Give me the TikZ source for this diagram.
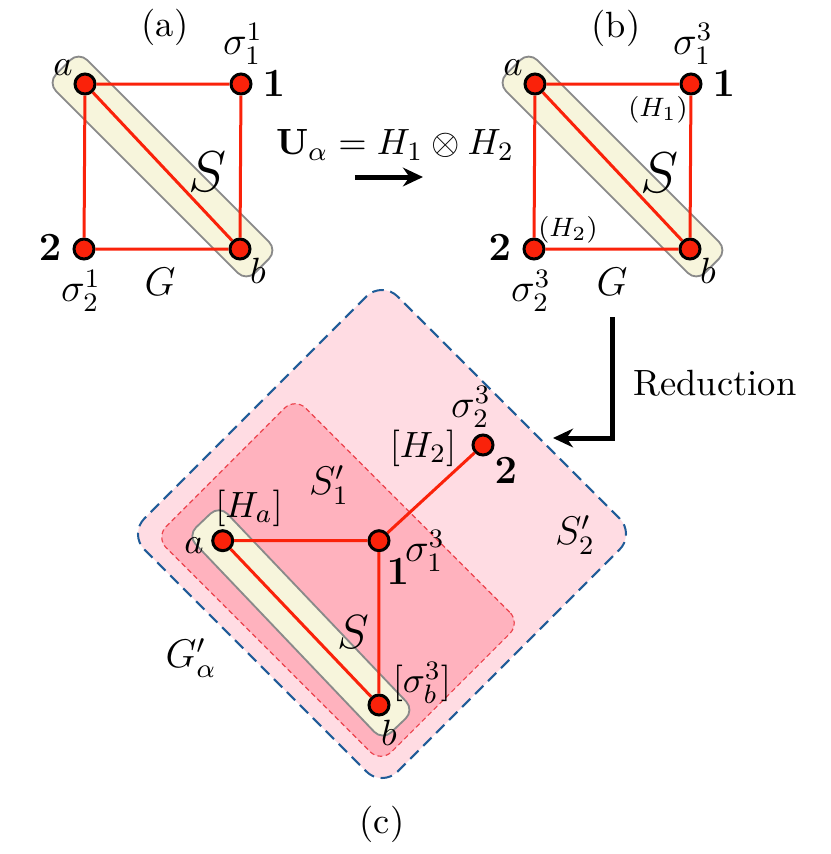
\documentclass[tikz,11pt,border=0pt]{standalone}
\usepackage{amsmath,amsfonts,amssymb}
\usetikzlibrary{arrows.meta}
\definecolor{vred}{RGB}{250,34,10}
\definecolor{capfill}{RGB}{247,245,220}
\definecolor{capline}{RGB}{138,138,138}
\definecolor{outerpink}{RGB}{255,220,227}
\definecolor{innerpink}{RGB}{255,178,190}
\definecolor{dashblue}{RGB}{32,92,152}
\definecolor{dashred}{RGB}{236,66,76}

\begin{document}
\begin{tikzpicture}[x=0.3pt,y=-0.3pt,
  vert/.style={circle,draw=black,fill=vred,line width=0.9pt,minimum size=6pt,inner sep=0pt},
  link/.style={draw=vred,line width=0.9pt},
  capsule/.style={draw=capline,fill=capfill,line width=0.55pt,rounded corners=3.6pt,minimum height=13.2pt,inner sep=0pt},
  bigarrow/.style={line width=1.5pt,-{Stealth[length=6pt,width=5.6pt]}},
  lab/.style={inner sep=0pt},
  biglab/.style={inner sep=0pt,font=\large}]
\useasboundingbox (0,0) rectangle (831,854);
%
% (a)
\node[capsule,minimum width=84.3pt,rotate=-45] (capA) at (162.5,166.5) {};
\node[vert] (aa) at (85,84) {};
\node[vert] (a1) at (241,84) {};
\node[vert] (a2) at (84,249) {};
\node[vert] (ab) at (240,249) {};
\draw[link] (aa) -- (a1) (a1) -- (ab) (ab) -- (a2) (a2) -- (aa) (aa) -- (ab);
\node[lab] (tA) at (165,27) {(a)};
\node[lab] (laa) at (63,68) {$a$};
\node[biglab] (lsa1) at (243,44) {$\sigma_1^1$};
\node[biglab] (la1) at (274,84) {$\mathbf{1}$};
\node[biglab] (la2) at (50,248) {$\mathbf{2}$};
\node[biglab] (lsa2) at (81,291) {$\sigma_2^1$};
\node[lab] (lGa) at (160,282) {\large $G$};
\node[lab] (lab) at (258,271) {$b$};
\node[lab] (lSa) at (208,172) {\LARGE $S$};
%
\node[lab] (uform) at (395,145) {$\mathbf{U}_\alpha = H_1\otimes H_2$};
\coordinate (ustart) at (355,177);
\coordinate (uend) at (423,177);
\draw[bigarrow] (ustart) -- (uend);
%
% (b)
\node[capsule,minimum width=84.3pt,rotate=-45] (capB) at (612.5,166.5) {};
\node[vert] (ba) at (535,84) {};
\node[vert] (b1) at (691,84) {};
\node[vert] (b2) at (534,249) {};
\node[vert] (bb) at (690,249) {};
\draw[link] (ba) -- (b1) (b1) -- (bb) (bb) -- (b2) (b2) -- (ba) (ba) -- (bb);
\node[lab] (tB) at (616,28) {(b)};
\node[lab] (lba) at (513,68) {$a$};
\node[biglab] (lsb1) at (693,44) {$\sigma_1^3$};
\node[biglab] (lb1) at (724,84) {$\mathbf{1}$};
\node[lab] (lh1) at (658,110) {\scriptsize $(H_1)$};
\node[lab] (lh2) at (568,230) {\scriptsize $(H_2)$};
\node[biglab] (lb2) at (500,248) {$\mathbf{2}$};
\node[biglab] (lsb2) at (531,291) {$\sigma_2^3$};
\node[lab] (lGb) at (612,282) {\large $G$};
\node[lab] (lbb) at (708,271) {$b$};
\node[lab] (lSb) at (660,173) {\LARGE $S$};
%
\coordinate (rtop) at (613,317);
\coordinate (rend) at (553,438);
\draw[bigarrow] (rtop) |- (rend);
\node[lab] (lred) at (715,383) {Reduction};
%
% (c)
\node[draw=dashblue,fill=outerpink,line width=0.6pt,dash pattern=on 3.5pt off 2pt,
  rounded corners=6.6pt,minimum size=107.4pt,rotate=45] (regS2) at (382,534) {};
\node[draw=dashred,fill=innerpink,line width=0.35pt,dash pattern=on 1.5pt off 1pt,
  rounded corners=4.5pt,minimum width=95.6pt,minimum height=59.2pt,rotate=-45] (regS1) at (338,580) {};
\node[capsule,minimum width=84.9pt,rotate=-46.4] (capC) at (300.9,622.9) {};
\node[vert] (ca) at (222.7,540.7) {};
\node[vert] (c1) at (379,540.7) {};
\node[vert] (cb) at (379,705) {};
\node[vert] (c2) at (483,445) {};
\draw[link] (ca) -- (c1) (c1) -- (cb) (cb) -- (ca) (c1) -- (c2);
\node[lab] (lha) at (249,508) {$[H_a]$};
\node[lab] (lca) at (194,546) {$a$};
\node[lab] (lS1) at (329,485) {\large $S_1'$};
\node[biglab] (lsc1) at (425,551) {$\sigma_1^3$};
\node[biglab] (lc1) at (398,572) {$\mathbf{1}$};
\node[lab] (lhc2) at (423,448) {$[H_2]$};
\node[biglab] (lsc2) at (471,407) {$\sigma_2^3$};
\node[biglab] (lc2) at (506,471) {$\mathbf{2}$};
\node[lab] (lS2) at (575,535) {\large $S_2'$};
\node[lab] (lSc) at (353,632) {\Large $S$};
\node[lab] (lGc) at (191,658) {\large $G_\alpha'$};
\node[lab] (lsb) at (422,683) {$[\sigma_b^3]$};
\node[lab] (lcb) at (389,733) {$b$};
\node[lab] (tC) at (382,824) {(c)};
\end{tikzpicture}
\end{document}
